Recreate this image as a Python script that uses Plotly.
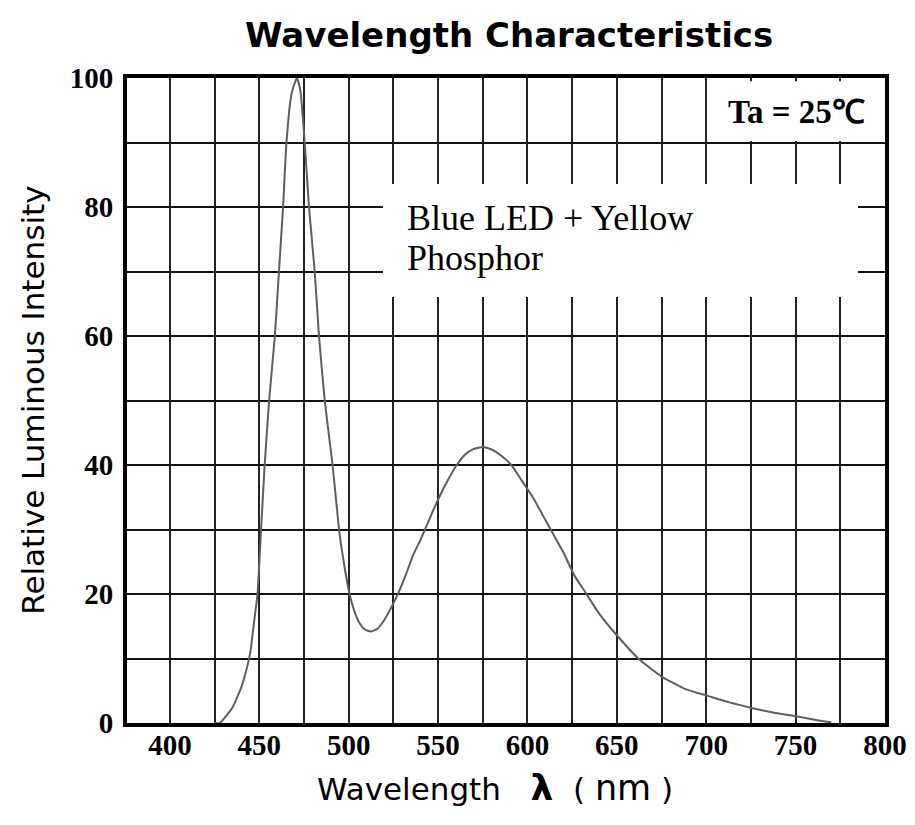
import plotly.graph_objects as go

# Spectrum (wavelength nm, relative intensity %)
wavelength = [425, 428, 430, 435, 440, 443, 445, 447, 449, 451, 453, 455.5, 458.7, 461, 463.3,
              465.2, 468, 471, 473, 475.4, 477.8, 481, 483.4, 486.6, 491, 494.6, 497.2, 500.5,
              503, 506, 509, 512.5, 516, 520, 524, 528, 532, 536, 540, 543, 547, 551, 555, 560,
              565, 570, 575, 580, 585, 591, 597, 603, 608, 613, 620, 626, 633, 640, 650, 662,
              675, 688, 701, 713, 726, 738, 751, 763, 770]
intensity = [0, 0, 0.6, 2.4, 5.6, 8.5, 11, 15.5, 20, 30, 40, 50, 60, 70, 80,
             90, 97.5, 100, 98, 90, 80, 70, 60, 50, 40, 30, 25, 20,
             17.5, 15.5, 14.5, 14.2, 14.6, 16, 18, 20.3, 23, 26, 28.3, 30.2, 32.8, 35.2, 37.4, 39.8,
             41.6, 42.5, 42.8, 42.4, 41.5, 40, 37.5, 35, 32.5, 30, 26.5, 23, 20, 17, 13.6, 10,
             7.2, 5.3, 4.2, 3.2, 2.3, 1.6, 1.0, 0.4, 0.1]

x_ticks = [400, 450, 500, 550, 600, 650, 700, 750, 800]
y_ticks = [0, 20, 40, 60, 80, 100]

title_text = "Wavelength Characteristics"
x_title = ("Wavelength   <span style=\"font-size:36px\"><b>λ</b></span>  "
           "( <span style=\"font-size:35px\">nm</span> )")
y_title = "Relative Luminous Intensity"
label_line1 = "Blue LED + Yellow"
label_line2 = "Phosphor"
temp_label = "<b>Ta = 25℃</b>"

SERIF = "Liberation Serif, Times New Roman, serif"
SANS = "DejaVu Sans, Arial, sans-serif"

fig = go.Figure()
fig.add_trace(go.Scatter(x=wavelength, y=intensity, mode="lines",
                         line=dict(color="#5e5e5e", width=2, shape="spline", smoothing=0.5),
                         showlegend=False, hoverinfo="skip"))

fig.update_layout(
    width=915, height=825,
    margin=dict(l=119, r=38, t=70, b=110),
    paper_bgcolor="white", plot_bgcolor="white",
    showlegend=False,
    xaxis=dict(range=[376, 800], tickvals=x_ticks, ticks="", showline=True, linewidth=4,
               linecolor="black", mirror=True, showgrid=True, gridcolor="#222222", gridwidth=1.5,
               zeroline=False, ticklabelstandoff=-7,
               tickfont=dict(family=SERIF, size=29, color="black", weight="bold"),
               minor=dict(dtick=25, tick0=400, showgrid=True, gridcolor="#222222", gridwidth=1.5)),
    yaxis=dict(range=[0, 100], tickvals=y_ticks, ticks="", showline=True, linewidth=4,
               linecolor="black", mirror=True, showgrid=True, gridcolor="#111111", gridwidth=2,
               zeroline=False, ticklabelstandoff=4,
               tickfont=dict(family=SERIF, size=29, color="black", weight="bold"),
               minor=dict(dtick=10, tick0=0, showgrid=True, gridcolor="#111111", gridwidth=2)),
)

# white label boxes that hide the grid behind the in-plot texts
fig.add_shape(type="rect", xref="paper", yref="paper", x0=0.7704, x1=0.996, y0=0.9023, y1=0.995,
              fillcolor="white", line=dict(width=0), layer="above")
fig.add_shape(type="rect", xref="paper", yref="paper", x0=0.3377, x1=0.9644, y0=0.6605, y1=0.8357,
              fillcolor="white", line=dict(width=0), layer="above")

fig.add_annotation(text=label_line1, xref="paper", yref="paper", x=0.3668, y=0.783,
                   xanchor="left", yanchor="middle", showarrow=False,
                   font=dict(family=SERIF, size=36, color="black"))
fig.add_annotation(text=label_line2, xref="paper", yref="paper", x=0.3668, y=0.721,
                   xanchor="left", yanchor="middle", showarrow=False,
                   font=dict(family=SERIF, size=36, color="black"))
fig.add_annotation(text=temp_label, xref="paper", yref="paper", x=0.8826, y=0.947,
                   xanchor="center", yanchor="middle", showarrow=False,
                   font=dict(family=SERIF, size=33, color="black"))

fig.add_annotation(text="<b>" + title_text + "</b>", xref="paper", yref="paper", x=0.504, y=1.067,
                   xanchor="center", yanchor="middle", showarrow=False,
                   font=dict(family=SANS, size=34, color="black"))
fig.add_annotation(text=x_title, xref="paper", yref="paper", x=0.4855, y=-0.1,
                   xanchor="center", yanchor="middle", showarrow=False,
                   font=dict(family=SANS, size=31, color="black"))
fig.add_annotation(text=y_title, xref="paper", yref="paper", x=-0.125, y=0.5,
                   xanchor="center", yanchor="middle", showarrow=False, textangle=-90,
                   font=dict(family=SANS, size=31, color="black"))

fig.write_html("out.html")
